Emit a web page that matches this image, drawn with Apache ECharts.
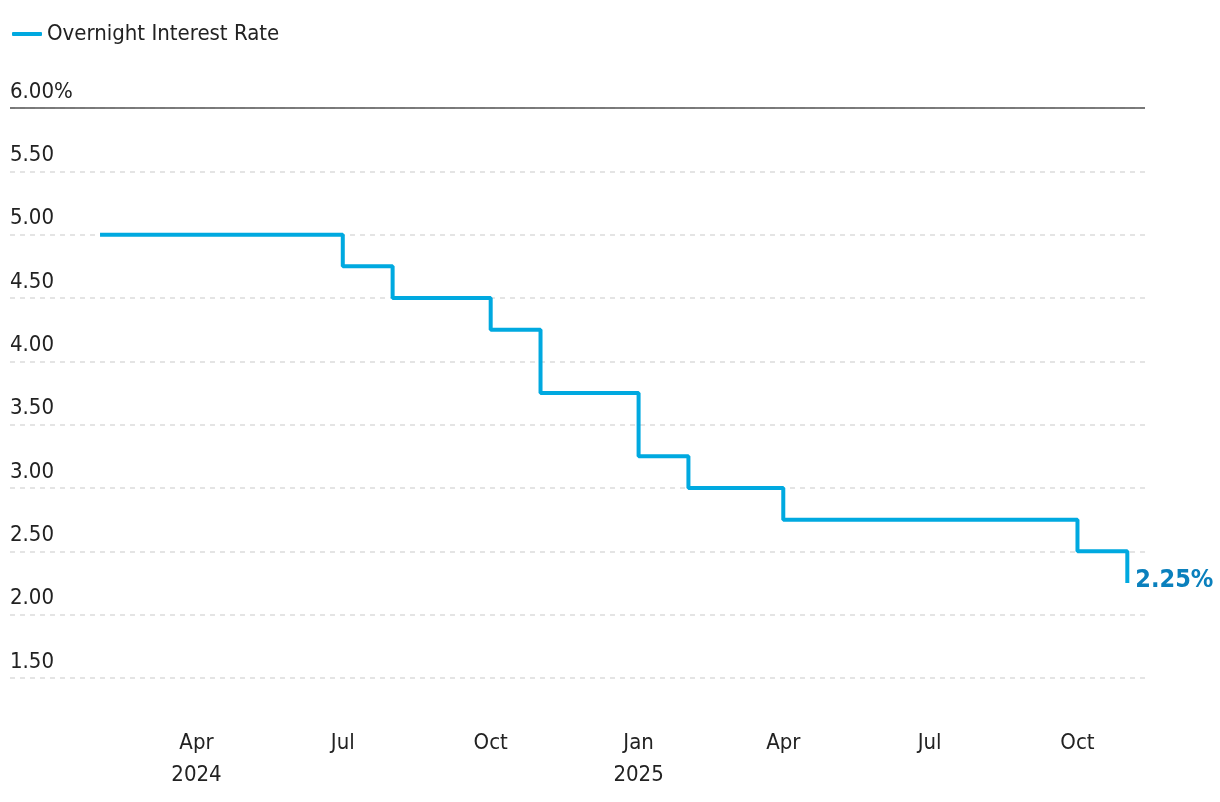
<!DOCTYPE html>
<html>
<head>
<meta charset="utf-8">
<script src="https://cdn.jsdelivr.net/npm/echarts@6/dist/echarts.min.js"></script>
<style>
  html, body { margin: 0; padding: 0; background: #fff; }
  #chart { width: 1220px; height: 802px; }
</style>
</head>
<body>
<div id="chart"></div>
<script>
// ---- data ----
const seriesName = 'Overnight Interest Rate';
const dates = [
  '2024-02-01','2024-03-01','2024-04-01','2024-05-01','2024-06-01','2024-07-01',
  '2024-08-01','2024-09-01','2024-10-01','2024-11-01','2024-12-01',
  '2025-01-01','2025-02-01','2025-03-01','2025-04-01','2025-05-01','2025-06-01',
  '2025-07-01','2025-08-01','2025-09-01','2025-10-01','2025-11-01'
];
const rates = [
  5.00, 5.00, 5.00, 5.00, 5.00, 4.75,
  4.50, 4.50, 4.25, 3.75, 3.75,
  3.25, 3.00, 3.00, 2.75, 2.75, 2.75,
  2.75, 2.75, 2.75, 2.50, 2.25
];
const xTickDates = ['2024-04-01','2024-07-01','2024-10-01','2025-01-01','2025-04-01','2025-07-01','2025-10-01'];
const monthNames = ['Jan','Feb','Mar','Apr','May','Jun','Jul','Aug','Sep','Oct','Nov','Dec'];
const xMin = '2023-12-07';
const xMax = '2025-11-12';
const yMin = 1.5, yMax = 6, yStep = 0.5;
const endLabelText = '2.25%';

// ---- chart ----
const FONT = '"Liberation Sans Narrow", "DejaVu Sans Condensed", "Roboto Condensed", sans-serif';
const chart = echarts.init(document.getElementById('chart'), null, { renderer: 'canvas' });
const ts = s => new Date(s + 'T00:00:00Z').getTime();
const tickTs = xTickDates.map(ts);

chart.setOption({
  animation: false,
  backgroundColor: '#ffffff',
  textStyle: { fontFamily: FONT },
  legend: {
    left: 7, top: 18,
    icon: 'roundRect',
    itemWidth: 30, itemHeight: 4, itemGap: 10,
    textStyle: { fontFamily: FONT, fontSize: 22, color: '#222', padding: [0, 0, 0, 0] },
    data: [seriesName]
  },
  grid: { left: 10, right: 75, top: 108, bottom: 124, outerBoundsMode: 'none', containLabel: false },
  xAxis: {
    type: 'value',
    min: ts(xMin), max: ts(xMax),
    axisLine: { show: false },
    axisTick: { show: false },
    splitLine: { show: false },
    axisLabel: {
      customValues: tickTs,
      showMinLabel: true, showMaxLabel: true,
      margin: 49,
      fontFamily: FONT, fontSize: 22, color: '#222', lineHeight: 32,
      formatter: function (v) {
        const d = new Date(v);
        const m = d.getUTCMonth();
        const name = monthNames[m];
        if (v === tickTs[0] || m === 0) return name + '\n' + d.getUTCFullYear();
        return name;
      }
    }
  },
  yAxis: {
    type: 'value',
    min: yMin, max: yMax, interval: yStep,
    axisLine: { show: false },
    axisTick: { show: false },
    axisLabel: {
      inside: true,
      margin: 0,
      verticalAlign: 'bottom',
      padding: [0, 0, 5, 0],
      fontFamily: FONT, fontSize: 22, color: '#222',
      formatter: function (v) {
        return v === yMax ? v.toFixed(2) + '%' : v.toFixed(2);
      }
    },
    splitLine: { show: true, lineStyle: { color: '#dcdcdc', type: [5, 5], width: 1.5 } }
  },
  series: [{
    name: seriesName,
    type: 'line',
    step: 'end',
    symbol: 'none',
    data: dates.map((d, i) => [ts(d), rates[i]]),
    lineStyle: { color: '#00a9e0', width: 4 },
    itemStyle: { color: '#00a9e0' },
    endLabel: {
      show: true,
      formatter: endLabelText,
      distance: 8,
      offset: [0, -3],
      fontFamily: FONT, fontSize: 25, fontWeight: 'bold', color: '#0a80bd'
    },
    markLine: {
      silent: true,
      symbol: 'none',
      label: { show: false },
      lineStyle: { color: '#555', type: 'solid', width: 1.5 },
      data: [{ yAxis: yMax }]
    }
  }]
});
</script>
</body>
</html>
